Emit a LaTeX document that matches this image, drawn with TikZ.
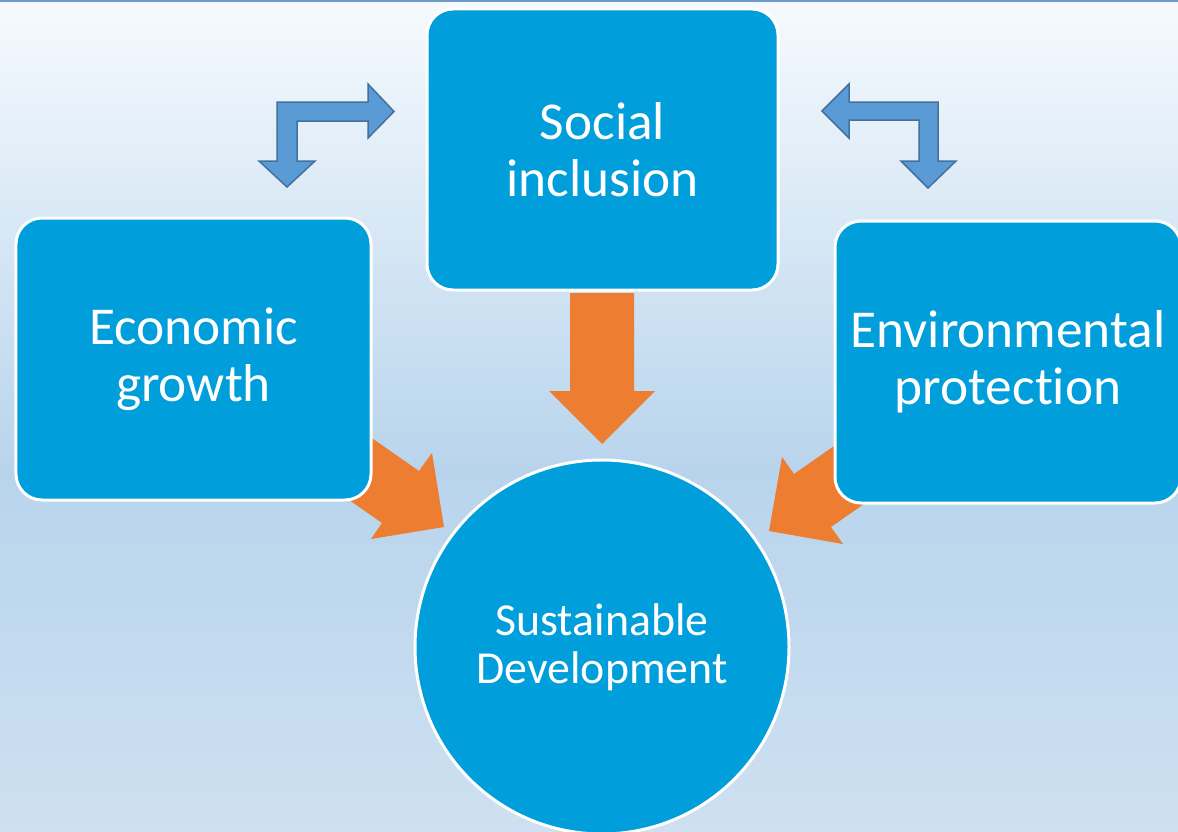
\documentclass[tikz,border=0pt]{standalone}
\usepackage{fontspec}
\setmainfont{Carlito}[Ligatures={NoCommon,NoRequired},Contextuals=NoAlternate,RawFeature=-liga]
\usetikzlibrary{calc,shapes.geometric}

\definecolor{boxblue}{RGB}{0,158,219}
\definecolor{arrorange}{RGB}{237,125,49}
\definecolor{bentfill}{RGB}{91,155,213}
\definecolor{bentline}{RGB}{65,113,156}
\definecolor{bgtop}{RGB}{246,250,254}
\definecolor{bgmid}{RGB}{184,212,236}
\definecolor{bgbot}{RGB}{206,224,241}
\definecolor{topline}{RGB}{110,155,197}

\tikzset{
  pillarbox/.style={rectangle,rounded corners=26bp,fill=boxblue,draw=white,line width=3bp,
    text=white,align=center,font=\fontsize{53.5}{57}\selectfont,inner sep=0pt},
  goalcircle/.style={circle,fill=boxblue,draw=white,line width=3bp,minimum size=374bp,
    text=white,align=center,font=\fontsize{46}{48}\selectfont,inner sep=0pt},
  fatarrow/.style={fill=arrorange},
  bentarrow/.style={fill=bentfill,draw=bentline,line width=1.5bp,line join=miter}
}

\begin{document}
\begin{tikzpicture}[x=1bp,y=-1bp]
            \useasboundingbox (0,0) rectangle (1178,832);
            % background
            \shade[top color=bgtop,bottom color=bgmid] (0,0) rectangle (1178,470);
            \shade[top color=bgmid,bottom color=bgbot] (0,469) rectangle (1178,832);
            \fill[topline] (0,0) rectangle (1178,2);

            % orange arrows
            \fill[fatarrow] (570,293) -- (634,293) -- (634,391) -- (655,391)
                -- (602,444) -- (549,391) -- (570,391) -- cycle;
            \fill[fatarrow] (296,385) -- (419,471) -- (432,453) -- (444,527)
                -- (371,539) -- (382,523) -- (259,437) -- cycle;
            \fill[fatarrow] (917,388) -- (794,474) -- (782,457) -- (769,531)
                -- (843,544) -- (831,527) -- (954,441) -- cycle;

            % boxes
            \node[pillarbox,minimum width=351bp,minimum height=281bp] (social) at (602.5,149.5) {Social\\inclusion};
            \node[pillarbox,minimum width=355bp,minimum height=282bp] (economic) at (193.5,359) {Economic\\growth};
            \node[pillarbox,minimum width=346bp,minimum height=282bp] (environ) at (1008,362) {Environmental\\protect\kern0pt ion};
            \node[goalcircle] (sustain) at (602,647) {Sustainable\\Development};

            % bent arrows
            \draw[bentarrow] (287,187) -- (315,161) -- (297,161) -- (297,121) -- (368,121)
                -- (368,138) -- (394,111.5) -- (368,84) -- (368,102) -- (277,102)
                -- (277,161) -- (259,161) -- cycle;
            \draw[bentarrow] (822,111) -- (849,84) -- (849,102) -- (938,102) -- (938,161)
                -- (956,161) -- (928,188) -- (901,161) -- (919,161) -- (919,120)
                -- (849,120) -- (849,138) -- cycle;
\end{tikzpicture}
\end{document}
